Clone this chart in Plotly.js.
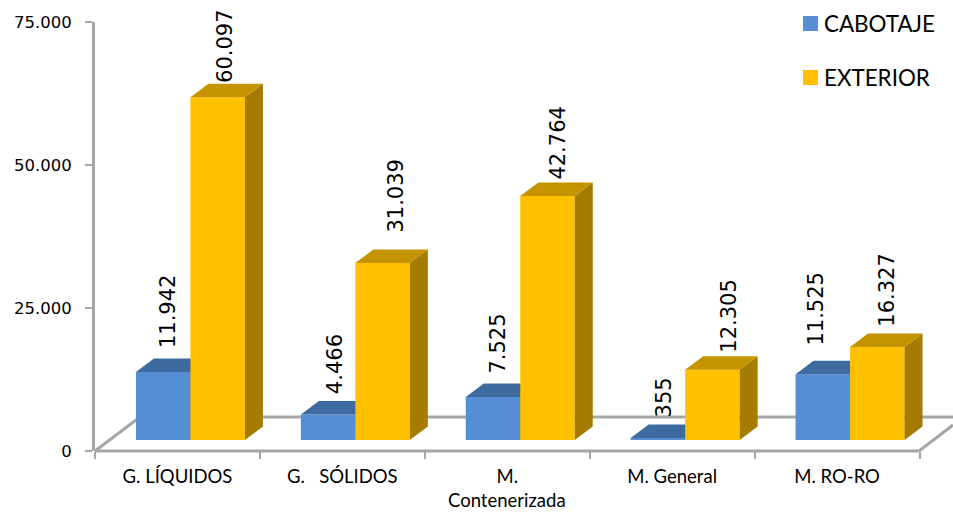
<!DOCTYPE html>
<html><head><meta charset="utf-8">
<script src="https://cdn.plot.ly/plotly-3.0.1.min.js"></script>
<style>html,body{margin:0;padding:0;background:#fff}</style></head>
<body><div id="chart" style="width:953px;height:512px"></div>
<script>
const categories = ['G. LÍQUIDOS', 'G.\u00a0\u00a0\u00a0SÓLIDOS', 'M.', 'M. General', 'M. RO-RO'];
const cabotaje = [11942, 4466, 7525, 355, 11525];
const exterior = [60097, 31039, 42764, 12305, 16327];
const yTicks = [0, 25000, 50000, 75000];
const blue = '#558ED5', blueTop = '#3F6A9F', blueSide = '#2F5480';
const gold = '#FFC000', goldTop = '#C49400', goldSide = '#A67C00';
const grey = '#A6A6A6';

// hand-placed data label offsets in the reference (px from bar centre / above the top face)
const cabShiftX = [5, 7, 5, 7, -7], cabLift = [8, 5, 8, 5, 13.5];
const extShiftX = [8, 13, 11, 17, 10], extLift = [-1, 15, 1, 1.5, 4.5];

// pixel geometry of the plot frame and of the pseudo-3D projection
const L = 95, T = 22, W = 858, H = 429, catW = 164.9;
const k = H / 75000;                 // axis px per unit
const kFront = 0.005703;             // front-plane px per unit
const barW = 54.5 / catW, dX = 18 / catW, dY = 13.5 / kFront;
const xRange = c => [(L - c) / catW, (L + W - c) / catW];
const fmt = v => String(v).replace(/\B(?=(\d{3})+$)/g, '.');
const idx = categories.map((_, i) => i);

function faces(vals, side) {
  const xs = [], ys = [];
  vals.forEach((v, i) => {
    const a = i - barW / 2, b = i + barW / 2;
    if (side) { xs.push(b, b + dX, b + dX, b, null); ys.push(0, dY, v + dY, v, null); }
    else { xs.push(a, a + dX, b + dX, b, null); ys.push(v, v + dY, v + dY, v, null); }
  });
  return {x: xs, y: ys};
}
function series(name, vals, col, topCol, sideCol, xa, ya) {
  const poly = (f, c) => ({type: 'scatter', mode: 'lines', x: f.x, y: f.y, xaxis: xa, yaxis: ya,
    fill: 'toself', fillcolor: c, line: {width: 0, color: c}, hoverinfo: 'skip', showlegend: false});
  return [
    {type: 'bar', name, x: idx, y: vals, width: barW, xaxis: xa, yaxis: ya,
     marker: {color: col, line: {width: 0}}, showlegend: false},
    poly(faces(vals, true), sideCol),
    poly(faces(vals, false), topCol)
  ];
}

const data = [
  {type: 'scatter', mode: 'markers', x: categories, y: categories.map(() => null), showlegend: false, hoverinfo: 'skip'},
  ...series('CABOTAJE', cabotaje, blue, blueTop, blueSide, 'x2', 'y2'),
  ...series('EXTERIOR', exterior, gold, goldTop, goldSide, 'x3', 'y3')
];

const yFront = [(-11) / kFront, (H - 11) / kFront];
const px = (x) => (x - L) / W, py = (y) => (T + H - y) / H;
const seg = (x0, y0, x1, y1, w) => ({type: 'line', xref: 'paper', yref: 'paper', layer: 'below',
  x0: px(x0), y0: py(y0), x1: px(x1), y1: py(y1), line: {color: grey, width: w}});
const swatch = (x0, y0, size, c) => ({type: 'rect', xref: 'paper', yref: 'paper', x0: px(x0), x1: px(x0 + size),
  y0: py(y0), y1: py(y0 + size), fillcolor: c, line: {width: 0}});
const legendText = (t, x, y) => ({xref: 'paper', yref: 'paper', x: px(x), y: py(y), text: t, showarrow: false,
  xanchor: 'left', yanchor: 'middle', font: {family: 'Lato', size: 22.4, color: '#000'}});

const label = (v, i, xa, ya, sx, lift) => ({xref: xa, yref: ya, x: i, y: v + dY, text: fmt(v), textangle: -90,
  showarrow: false, xanchor: 'center', yanchor: 'bottom', xshift: sx, yshift: lift,
  font: {family: 'DejaVu Sans', size: 21, color: '#000'}});

const layout = {
  width: 953, height: 512, margin: {l: L, r: 0, t: T, b: 512 - T - H, pad: 0},
  paper_bgcolor: '#fff', plot_bgcolor: 'rgba(0,0,0,0)', showlegend: false, barmode: 'overlay',
  separators: ',.',
  xaxis: {type: 'category', categoryorder: 'array', categoryarray: categories, range: [-0.5, -0.5 + W / catW],
    tickson: 'boundaries', ticks: 'outside', ticklen: 7, tickwidth: 2, tickcolor: grey, showgrid: false,
    zeroline: false, showline: false, tickangle: 0, automargin: false, ticklabelstandoff: 12,
    tickfont: {family: 'Lato', size: 18.5, color: '#000'}},
  yaxis: {range: [0, 75000], tickvals: yTicks, tickformat: ',d', ticks: 'outside', ticklen: 7, tickwidth: 2,
    tickcolor: grey, showgrid: false, zeroline: false, showline: true, linecolor: grey, linewidth: 3,
    automargin: false, ticklabelstandoff: 10, tickfont: {family: 'DejaVu Sans', size: 16.5, color: '#000'}},
  xaxis2: {overlaying: 'x', range: xRange(163.2), visible: false},
  yaxis2: {overlaying: 'y', range: yFront, visible: false},
  xaxis3: {overlaying: 'x', range: xRange(217.7), visible: false},
  yaxis3: {overlaying: 'y', range: yFront, visible: false},
  shapes: [
    seg(95, 451, 919, 451, 3),
    seg(95, 451, 140, 417, 3),
    seg(137, 417, 953, 417, 3),
    seg(919, 451, 953, 425, 3),
    swatch(803, 16, 15, blue),
    swatch(803, 70, 15, gold)
  ],
  annotations: [
    ...cabotaje.map((v, i) => label(v, i, 'x2', 'y2', cabShiftX[i], cabLift[i])),
    ...exterior.map((v, i) => label(v, i, 'x3', 'y3', extShiftX[i], extLift[i])),
    legendText('CABOTAJE', 822, 23),
    legendText('EXTERIOR', 822, 77),
    {xref: 'x', yref: 'paper', x: 2, y: py(499.5), text: 'Contenerizada', showarrow: false,
     xanchor: 'center', yanchor: 'middle', font: {family: 'Lato', size: 18.5, color: '#000'}}
  ]
};
Plotly.newPlot('chart', data, layout, {staticPlot: true, displayModeBar: false});
</script></body></html>
